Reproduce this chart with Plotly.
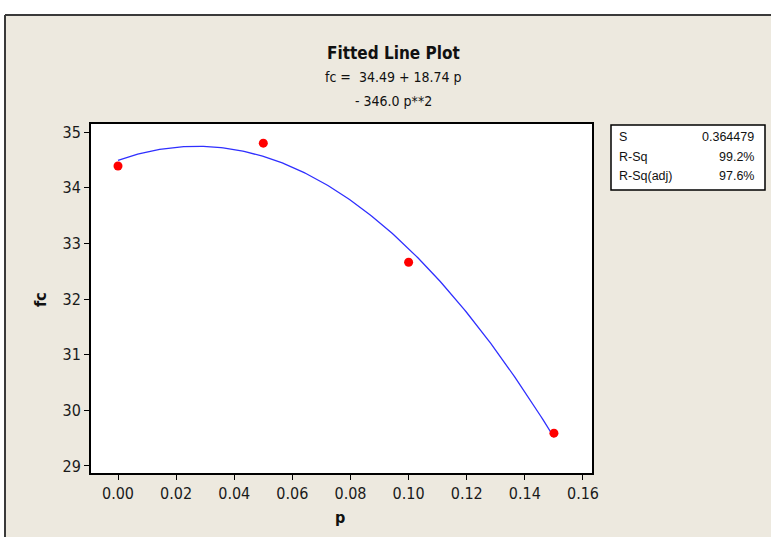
import numpy as np
import plotly.graph_objects as go

# Observed data
p_vals = [0.00, 0.05, 0.10, 0.15]
fc_vals = [34.39, 34.80, 32.66, 29.59]

# Quadratic regression coefficients (fc = b0 + b1*p + b2*p^2)
b0, b1, b2 = 34.49, 18.74, -346.0

# Summary statistics
stat_names = ["S", "R-Sq", "R-Sq(adj)"]
stat_values = ["0.364479", "99.2%", "97.6%"]

x_ticks = [0.00, 0.02, 0.04, 0.06, 0.08, 0.10, 0.12, 0.14, 0.16]
y_ticks = [29, 30, 31, 32, 33, 34, 35]

W, H = 771, 537
L, R, T, B = 91, 592, 124, 473          # plot-area edges in pixels
pw, ph = R - L, B - T


def px(x):
    return (x - L) / pw


def py(y):
    return (B - y) / ph


p_fit = np.linspace(min(p_vals), max(p_vals), 200)
fc_fit = b0 + b1 * p_fit + b2 * p_fit ** 2

NARROW = "Liberation Sans Narrow, DejaVu Sans Condensed, Arial Narrow, sans-serif"
TICKF = "DejaVu Sans Condensed, Liberation Sans Narrow, sans-serif"
BEIGE = "#EDE9DF"

fig = go.Figure()
fig.add_trace(go.Scatter(x=p_fit, y=fc_fit, mode="lines",
                         line=dict(color="#2f2fff", width=1.3),
                         hoverinfo="skip", showlegend=False))
fig.add_trace(go.Scatter(x=p_vals, y=fc_vals, mode="markers",
                         marker=dict(color="#ff0000", size=9, symbol="circle"),
                         showlegend=False))

axis_common = dict(showline=True, mirror=True, linecolor="#000000", linewidth=2,
                   ticks="outside", ticklen=5, tickcolor="#000000", tickwidth=1,
                   showgrid=False, zeroline=False,
                   tickfont=dict(family=TICKF, size=16, color="#1a1a1a"))

fig.update_xaxes(range=[-0.00929, 0.1631], tickvals=x_ticks,
                 ticktext=[f"{v:.2f}" for v in x_ticks], **axis_common)
fig.update_yaxes(range=[28.874, 35.144], tickvals=y_ticks,
                 ticktext=[str(v) for v in y_ticks], **axis_common)

shapes = [
    # white margin strips around the framed panel
    dict(type="rect", xref="paper", yref="paper", x0=px(-5), x1=px(W + 5),
         y0=py(15), y1=py(-5), fillcolor="white", line=dict(width=0)),
    dict(type="rect", xref="paper", yref="paper", x0=px(-5), x1=px(5),
         y0=py(W), y1=py(-5), fillcolor="white", line=dict(width=0)),
    # panel frame
    dict(type="line", xref="paper", yref="paper", x0=px(5), x1=px(W + 5),
         y0=py(15), y1=py(15), line=dict(color="#3a3a3a", width=2)),
    dict(type="line", xref="paper", yref="paper", x0=px(5), x1=px(5),
         y0=py(15), y1=py(H + 5), line=dict(color="#3a3a3a", width=2)),
    # statistics box
    dict(type="rect", xref="paper", yref="paper", x0=px(611), x1=px(765),
         y0=py(190), y1=py(125), fillcolor="white",
         line=dict(color="#000000", width=1.5)),
]

annotations = [
    dict(text="<b>Fitted Line Plot</b>", x=px(393), y=py(53),
         font=dict(family=NARROW, size=17, color="#111111")),
    dict(text=f"fc =  {b0:.2f} + {b1:.2f} p", x=px(393), y=py(77),
         font=dict(family=NARROW, size=14, color="#111111")),
    dict(text=f"- {abs(b2):.1f} p**2", x=px(393), y=py(101),
         font=dict(family=NARROW, size=14, color="#111111")),
    dict(text="<b>fc</b>", x=px(40), y=py(300), textangle=-90,
         font=dict(family=NARROW, size=16, color="#111111")),
    dict(text="<b>p</b>", x=px(340), y=py(517),
         font=dict(family=NARROW, size=16, color="#111111")),
]
for a in annotations:
    a.update(xref="paper", yref="paper", showarrow=False,
             xanchor="center", yanchor="middle")

row_y = [137, 157, 176]
for name, val, yy in zip(stat_names, stat_values, row_y):
    annotations.append(dict(text=name, x=px(617), y=py(yy), xref="paper", yref="paper",
                            showarrow=False, xanchor="left", yanchor="middle",
                            font=dict(family="Liberation Sans, sans-serif", size=12.5, color="#111111")))
    annotations.append(dict(text=val, x=px(756), y=py(yy), xref="paper", yref="paper",
                            showarrow=False, xanchor="right", yanchor="middle",
                            font=dict(family="Liberation Sans, sans-serif", size=12.5, color="#111111")))

fig.update_layout(width=W, height=H, paper_bgcolor=BEIGE, plot_bgcolor="white",
                  margin=dict(l=L, r=W - R, t=T, b=H - B, autoexpand=False),
                  shapes=shapes, annotations=annotations, showlegend=False)

fig.write_html("out.html")
